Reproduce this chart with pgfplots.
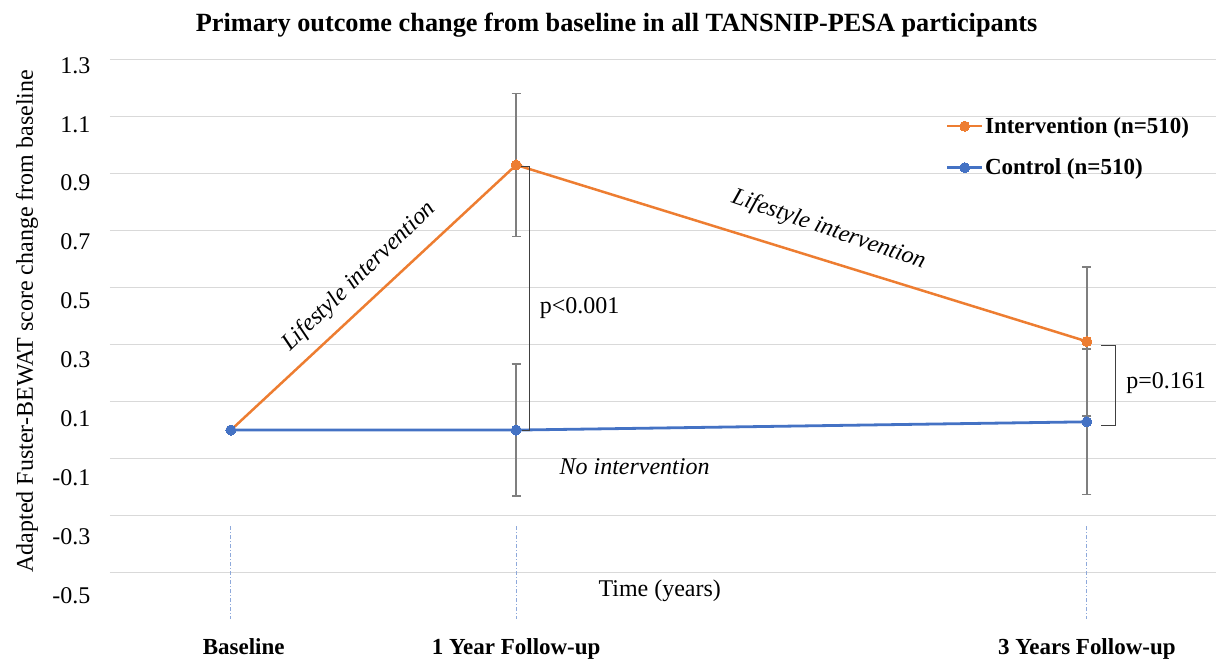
\documentclass[border=0pt]{standalone}
\usepackage{pgfplots}
\pgfplotsset{compat=1.18}
\usepackage{fontspec}
\setmainfont{Liberation Serif}
\definecolor{orangeI}{HTML}{ED7D31}
\definecolor{blueC}{HTML}{4472C4}
\definecolor{errgray}{HTML}{7F7F7F}
\definecolor{gridc}{HTML}{D9D9D9}
\definecolor{dropc}{HTML}{8EA9DB}
\definecolor{brk}{HTML}{404040}
\pgfplotstableread{
x y e
0 0.00 0.000
1 0.93 0.251
3 0.311 0.261
}\intervention
\pgfplotstableread{
x y e
0 0.00 0.000
1 0.00 0.231
3 0.029 0.255
}\control
\begin{document}
\begin{tikzpicture}
\begin{axis}[
  at={(0pt,0pt)}, anchor=south west,
  scale only axis, width=1107pt, height=513.5pt,
  xmin=-0.4238, xmax=3.4536, ymin=-0.5, ymax=1.3,
  clip=false,
  axis line style={draw=none},
  major tick length=0pt,
  font=\fontsize{24}{28}\selectfont,
  /pgf/number format/assume math mode=true,
  /pgf/number format/.cd, fixed, precision=1, fixed zerofill, /pgfplots/.cd,
  ytick={-0.5,-0.3,-0.1,0.1,0.3,0.5,0.7,0.9,1.1,1.3},
  yticklabel style={anchor=east, xshift=-16pt, yshift=\ticknum*1.9pt-23pt},
  xtick={0.045,1,3},
  xticklabels={Baseline,1 Year Follow-up,3 Years Follow-up},
  xticklabel style={anchor=base, yshift=-82pt, font=\fontsize{23}{27}\selectfont\bfseries},
  ymajorgrids, grid style={gridc, line width=1.5pt},
  title={Primary outcome change from baseline in all TANSNIP-PESA participants},
  title style={at={(axis description cs:0.458,1.056)}, anchor=center, font=\fontsize{26.3}{30}\selectfont\bfseries},
  xlabel={Time (years)},
  xlabel style={at={(axis description cs:0.497,-0.035)}, anchor=center},
  ylabel={Adapted Fuster-BEWAT score change from baseline},
  ylabel style={at={(axis description cs:-0.075,0.49)}, anchor=center},
  legend style={at={(axis cs:2.505,1.1025)}, anchor=north west, draw=none, fill=none,
    font=\fontsize{23}{27}\selectfont\bfseries, row sep=21pt, inner sep=0pt,
    nodes={inner sep=1.5pt}},
  legend cell align=left,
  legend image code/.code={\draw[mark repeat=2,mark phase=2,#1] plot coordinates {(0pt,0pt) (17.5pt,0pt) (35pt,0pt)};},
]
% drop lines
\draw[dropc, line width=1pt, dash pattern=on 4pt off 2pt on 1pt off 2pt] (axis cs:0,-0.338) -- (axis cs:0,-0.664);
\draw[dropc, line width=1pt, dash pattern=on 4pt off 2pt on 1pt off 2pt] (axis cs:1,-0.338) -- (axis cs:1,-0.664);
\draw[dropc, line width=1pt, dash pattern=on 4pt off 2pt on 1pt off 2pt] (axis cs:3,-0.338) -- (axis cs:3,-0.664);

\addplot[orangeI, line width=2.5pt, mark=*, mark size=5pt, mark options={fill=orangeI, draw=orangeI, line width=0pt},
  error bars/.cd, y dir=both, y explicit,
  error bar style={errgray, line width=1.8pt},
  error mark options={errgray, rotate=90, mark size=4.5pt, line width=1.6pt}]
  table[x=x, y=y, y error=e] {\intervention};
\addlegendentry{Intervention (n=510)}
\addplot[blueC, line width=2.8pt, mark=*, mark size=5pt, mark options={fill=blueC, draw=blueC, line width=0pt},
  error bars/.cd, y dir=both, y explicit,
  error bar style={errgray, line width=1.8pt},
  error mark options={errgray, rotate=90, mark size=4.5pt, line width=1.6pt}]
  table[x=x, y=y, y error=e] {\control};
\addlegendentry{Control (n=510)}

% brackets
\draw[brk, line width=1.1pt] (axis cs:1.016,0.926) -- (axis cs:1.047,0.926) -- (axis cs:1.047,0.0) -- (axis cs:1.016,0.0);
\node[anchor=west, inner sep=0pt] at (axis cs:1.082,0.429) {p<0.001};
\draw[brk, line width=1.1pt] (axis cs:3.051,0.296) -- (axis cs:3.10,0.296) -- (axis cs:3.10,0.017) -- (axis cs:3.051,0.017);
\node[anchor=west, inner sep=0pt] at (axis cs:3.138,0.166) {p=0.161};

% annotations
\node[rotate=44, font=\fontsize{24}{28}\selectfont\itshape] at (axis cs:0.45,0.538) {Lifestyle intervention};
\node[rotate=-19, font=\fontsize{24}{28}\selectfont\itshape] at (axis cs:2.095,0.702) {Lifestyle intervention};
\node[font=\fontsize{24}{28}\selectfont\itshape] at (axis cs:1.415,-0.128) {No intervention};
\end{axis}
\path (-110pt,-84pt) rectangle (1107pt,573pt);
\end{tikzpicture}
\end{document}
